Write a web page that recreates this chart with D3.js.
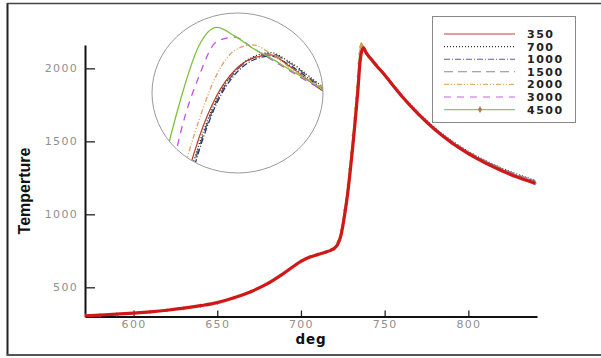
<!DOCTYPE html>
<html>
<head>
<meta charset="utf-8">
<script src="https://cdn.jsdelivr.net/npm/d3@7"></script>
<style>
  body { margin: 0; background: #fff; }
  svg { display: block; }
</style>
</head>
<body>
<script>
// ---------- data ----------
const deg = [571,580,590,600,610,620,630,640,650,660,670,680,690,700,705,710,715,718,720,722,724,726,728,729,730,731,732,732.5,733,733.5,734,734.5,735,735.5,736,736.5,737,737.5,738,739,740,742,745,750,755,760,770,780,790,800,810,820,830,840];

const t350  = [305,310,316,323,332,343,357,374,395,428,470,525,598,678,706,724,742,755,768,795,860,990,1150,1250,1360,1470,1590,1650,1715,1780,1845,1926,2006,2064,2103,2126,2137,2140,2130,2106,2090,2062,2020,1955,1882,1812,1688,1580,1490,1415,1352,1298,1252,1212];
const t700  = [305,310,316,323,332,343,357,374,395,428,470,525,598,678,706,724,742,755,768,793,855,982,1140,1242,1352,1462,1582,1642,1707,1772,1840,1918,1998,2058,2100,2125,2138,2142,2134,2110,2094,2068,2028,1964,1892,1822,1700,1594,1506,1432,1370,1317,1272,1233];
const t1000 = [305,310,316,323,332,343,357,374,395,428,470,525,598,678,706,724,742,755,768,792,852,978,1135,1236,1346,1456,1576,1636,1700,1765,1832,1910,1990,2052,2096,2122,2135,2139,2131,2108,2092,2065,2025,1960,1888,1818,1695,1589,1500,1426,1364,1311,1266,1227];
const t1500 = [305,310,316,323,332,343,357,374,395,428,470,525,598,678,706,724,742,755,768,794,854,980,1138,1240,1350,1460,1580,1640,1704,1769,1836,1914,1994,2055,2098,2124,2137,2141,2133,2109,2093,2066,2026,1962,1890,1820,1697,1591,1503,1429,1367,1314,1269,1230];
const t2000 = [305,310,316,323,332,343,357,374,395,428,470,525,598,678,706,724,742,755,768,800,870,1005,1170,1272,1375,1485,1605,1665,1730,1800,1870,1955,2025,2080,2122,2144,2149,2141,2129,2109,2092,2064,2023,1958,1886,1816,1692,1585,1496,1421,1359,1305,1259,1220];
const t3000 = [305,310,316,323,332,343,357,374,395,428,470,525,598,678,706,724,742,755,768,802,875,1012,1180,1285,1390,1505,1625,1690,1760,1830,1905,1990,2070,2120,2152,2156,2146,2136,2126,2107,2091,2063,2022,1957,1884,1814,1690,1583,1494,1419,1357,1303,1257,1218];
const t4500 = [305,310,316,323,332,343,357,374,395,428,470,525,598,678,706,724,742,755,768,810,890,1030,1200,1310,1420,1540,1660,1725,1795,1870,1945,2035,2100,2148,2165,2157,2146,2137,2127,2108,2092,2063,2021,1956,1883,1813,1689,1582,1492,1417,1355,1301,1255,1215];

const seriesNames = ["350","700","1000","1500","2000","3000","4500"];
const seriesValues = [t350, t700, t1000, t1500, t2000, t3000, t4500];

const xMajorTicks = [600,650,700,750,800];
const yMajorTicks = [500,1000,1500,2000];

// ---------- styles ----------
const styles = {
  "350":  {color:"#d03a3a", inset:"#b8402a", dash:null},
  "700":  {color:"#333333", inset:"#222222", dash:"1,2"},
  "1000": {color:"#5a5ac8", inset:"#30307a", dash:"6,2,1,2"},
  "1500": {color:"#8a8a8a", inset:"#666666", dash:"9,5"},
  "2000": {color:"#e8b070", inset:"#dca060", dash:"5,2,1,2,1,2"},
  "3000": {color:"#c860e0", inset:"#c050e0", dash:"7,6"},
  "4500": {color:"#8ccc50", inset:"#80c040", dash:null}
};

const W = 601, H = 358;
const svg = d3.select("body").append("svg").attr("width", W).attr("height", H);

// frame
svg.append("line").attr("x1",7.5).attr("x2",7.5).attr("y1",3).attr("y2",356).attr("stroke","#222").attr("stroke-width",2);
svg.append("line").attr("x1",7).attr("x2",601).attr("y1",3.5).attr("y2",3.5).attr("stroke","#444").attr("stroke-width",1.5);
svg.append("line").attr("x1",7).attr("x2",601).attr("y1",355).attr("y2",355).attr("stroke","#555").attr("stroke-width",2);

// scales
const x = d3.scaleLinear().domain([571, 841]).range([85, 537]);
const y = d3.scaleLinear().domain([300, 2160]).range([316.5, 45]);

const data = seriesNames.map((n, i) => ({name:n, pts: deg.map((d, j) => [d, seriesValues[i][j]])}));

// axes
const xMinor = d3.range(580, 841, 10).filter(v => !xMajorTicks.includes(v));
const yMinor = d3.range(400, 2101, 100).filter(v => !yMajorTicks.includes(v));

const gx = svg.append("g").attr("transform", "translate(0,316.5)");
gx.call(d3.axisBottom(x).tickValues(xMinor).tickSizeInner(-3.5).tickSizeOuter(0).tickFormat(""));
gx.call(d3.axisBottom(x).tickValues(xMajorTicks).tickSizeInner(-6).tickSizeOuter(0).tickPadding(4).tickFormat(d3.format("d")));

const gy = svg.append("g").attr("transform", "translate(85,0)");
gy.call(d3.axisLeft(y).tickValues(yMinor).tickSizeInner(-6).tickSizeOuter(0).tickFormat(""));
gy.call(d3.axisLeft(y).tickValues(yMajorTicks).tickSizeInner(-10).tickSizeOuter(0).tickPadding(7).tickFormat(d3.format("d")));

svg.selectAll(".domain").attr("stroke","#111").attr("stroke-width",2);
svg.selectAll(".tick line").attr("stroke","#222").attr("stroke-width",1.3);
svg.selectAll(".tick text").attr("fill","#909090").attr("font-family","DejaVu Sans").attr("font-size",11).attr("letter-spacing","1.3px");

// axis titles
svg.append("text").attr("x",311).attr("y",343.5).attr("text-anchor","middle")
  .attr("font-family","DejaVu Sans").attr("font-weight","bold").attr("font-size",13.5).attr("letter-spacing","0.8px").attr("fill","#111").text("deg");
svg.append("text").attr("transform","translate(30,191) rotate(-90)").attr("text-anchor","middle")
  .attr("font-family","Liberation Sans").attr("font-weight","bold").attr("font-size",16).attr("fill","#111").text("Temperture");

// main curves
const line = d3.line().x(d => x(d[0])).y(d => y(d[1])).curve(d3.curveMonotoneX);
const mainG = svg.append("g");
data.slice(1).forEach(s => {
  mainG.append("path").attr("d", line(s.pts)).attr("fill","none")
    .attr("stroke", styles[s.name].color).attr("stroke-width",1.2)
    .attr("stroke-dasharray", styles[s.name].dash);
});
// 4500 markers
mainG.selectAll(".mk").data(data[6].pts).enter().append("path")
  .attr("d", d3.symbol(d3.symbolDiamond, 7)())
  .attr("transform", d => `translate(${x(d[0])},${y(d[1])})`)
  .attr("fill","#c8a050");
mainG.append("path").attr("d", line(data[0].pts)).attr("fill","none")
  .attr("stroke","#d01818").attr("stroke-width",3.2);

// inset
const ix = d3.scaleLinear().domain([734.2, 738.95]).range([152, 323]);
const iy = d3.scaleLinear().domain([2032.5, 2178]).range([173, 13]);
const iline = d3.line().x(d => ix(d[0])).y(d => iy(d[1])).curve(d3.curveMonotoneX);
const defs = svg.append("defs");
defs.append("clipPath").attr("id","insetClip").append("ellipse")
  .attr("cx",237.5).attr("cy",93).attr("rx",85.5).attr("ry",80);
const insetG = svg.append("g").attr("clip-path","url(#insetClip)");
insetG.append("ellipse").attr("cx",237.5).attr("cy",93).attr("rx",85.5).attr("ry",80).attr("fill","#fff");
[3,2,1,0,4,5,6].forEach(i => {
  const s = data[i];
  insetG.append("path").attr("d", iline(s.pts)).attr("fill","none")
    .attr("stroke", styles[s.name].inset).attr("stroke-width",1.3)
    .attr("stroke-dasharray", styles[s.name].dash);
});
svg.append("ellipse").attr("cx",237.5).attr("cy",93).attr("rx",85.5).attr("ry",80)
  .attr("fill","none").attr("stroke","#999").attr("stroke-width",1);

// legend
const lg = svg.append("g");
lg.append("rect").attr("x",432.5).attr("y",16.5).attr("width",143).attr("height",106)
  .attr("fill","#fff").attr("stroke","#888").attr("stroke-width",1);
seriesNames.forEach((n, i) => {
  const yy = 34 + i * 12.6;
  lg.append("line").attr("x1",444).attr("x2",515).attr("y1",yy).attr("y2",yy)
    .attr("stroke", styles[n].color).attr("stroke-width",1.1).attr("stroke-dasharray", styles[n].dash);
  if (n === "4500") {
    lg.append("path").attr("d", d3.symbol(d3.symbolDiamond, 14)()).attr("transform",`translate(480,${yy})`).attr("fill","#a08040");
  }
  lg.append("text").attr("x",527).attr("y",yy).attr("dy","0.36em")
    .attr("font-family","DejaVu Sans").attr("font-weight","bold").attr("font-size",11).attr("letter-spacing","1.5px")
    .attr("fill","#222").text(n);
});
</script>
</body>
</html>
